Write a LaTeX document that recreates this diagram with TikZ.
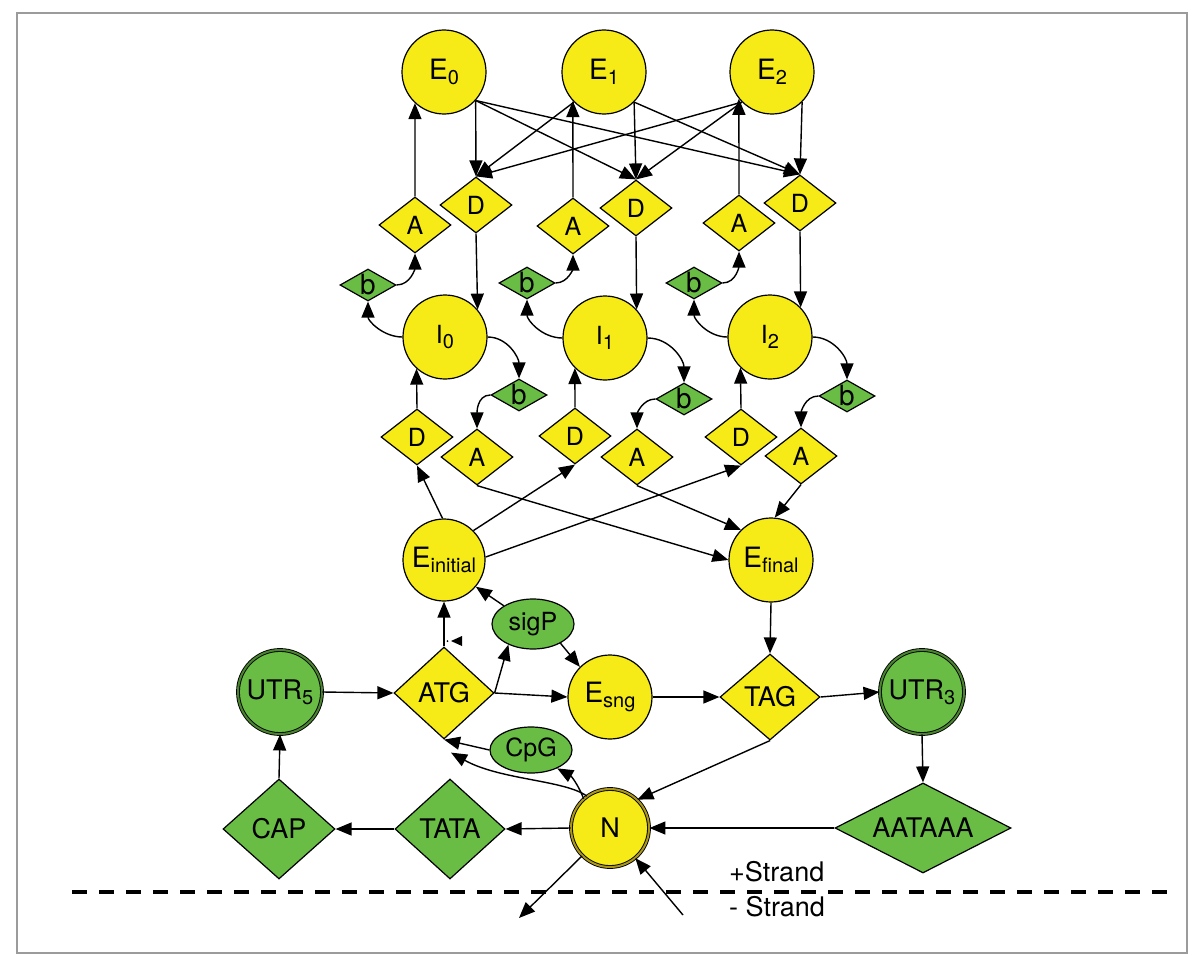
\documentclass[tikz,border=0pt]{standalone}
\usepackage{fontspec}
\setmainfont{TeX Gyre Heros}
\usetikzlibrary{shapes.geometric,arrows.meta}
\definecolor{yel}{RGB}{246,235,22}
\definecolor{grn}{RGB}{105,189,69}
\definecolor{frm}{RGB}{155,155,155}
\definecolor{olv}{RGB}{170,150,30}
\newcommand\lowsub[1]{\raisebox{-5pt}{\fontsize{20}{20}\selectfont #1}}
\newcommand\fa{\fontsize{25}{25}\selectfont}
\newcommand\fb{\fontsize{27}{27}\selectfont}
\newcommand\fe{\fontsize{28}{28}\selectfont}
\begin{document}
\begin{tikzpicture}[x=1pt,y=1pt,
  base/.style={draw=black, line width=1.2pt, inner sep=0pt, text=black},
  ecirc/.style={base, circle, fill=yel, minimum size=84pt, font=\fe},
  icirc/.style={base, circle, fill=yel, minimum size=84pt, font=\fa},
  ydia/.style={base, diamond, fill=yel, aspect=1.3, minimum width=72pt, minimum height=56pt, font=\fa},
  bdia/.style={base, diamond, fill=grn, aspect=1.75, minimum width=56pt, minimum height=32pt, font=\fe},
  gell/.style={base, ellipse, fill=grn, minimum width=82pt, font=\fa},
  utr/.style={base, circle, fill=grn, line width=0.9pt, double=grn!70!black, double distance=2pt, minimum size=84pt, font=\fb},
  arr/.style={-{Triangle[length=16pt,width=13pt]}, line width=1.4pt},
]
\useasboundingbox (0,0) rectangle (1200,-966);
\draw[frm, line width=1.5pt] (17,-13) rectangle (1187,-953);

% exon states
\node[ecirc] (E0) at (444,-72) {E\lowsub{0}};
\node[ecirc] (E1) at (604,-72) {E\lowsub{1}};
\node[ecirc] (E2) at (772,-72) {E\lowsub{2}};
% upper acceptor/donor
\node[ydia] (A0) at (415,-225) {A};
\node[ydia] (D0) at (476,-205) {D};
\node[ydia] (A1) at (573,-226) {A};
\node[ydia] (D1) at (636,-208) {D};
\node[ydia] (A2) at (739,-223) {A};
\node[ydia] (D2) at (800,-203) {D};
% upper b
\node[bdia] (bu0) at (368,-285) {b};
\node[bdia] (bu1) at (527,-283) {b};
\node[bdia] (bu2) at (694,-283) {b};
% introns
\node[icirc] (I0) at (445,-337) {I\lowsub{0}};
\node[icirc] (I1) at (605,-338) {I\lowsub{1}};
\node[icirc] (I2) at (770,-337) {I\lowsub{2}};
% lower b
\node[bdia] (bl0) at (519,-395) {b};
\node[bdia] (bl1) at (684,-399) {b};
\node[bdia] (bl2) at (847,-396) {b};
% lower donor/acceptor
\node[ydia] (Dl0) at (417,-437) {D};
\node[ydia] (Dl1) at (575,-436) {D};
\node[ydia] (Dl2) at (741,-437) {D};
\node[ydia] (Al0) at (477,-457) {A};
\node[ydia] (Al1) at (637,-457) {A};
\node[ydia] (Al2) at (801,-456) {A};
% initial / final
\node[ecirc, minimum size=82pt] (Ei) at (444,-560) {E\lowsub{initial}};
\node[ecirc] (Ef) at (771,-560) {E\lowsub{final}};
% lower part
\node[gell, minimum height=50pt] (sigP) at (533,-624) {sigP};
\node[base, diamond, fill=yel, minimum width=100pt, minimum height=92pt, font=\fb] (ATG) at (444,-693) {ATG};
\node[ecirc] (Esng) at (610,-697) {E\lowsub{sng}};
\node[base, diamond, fill=yel, minimum width=100pt, minimum height=86pt, font=\fb] (TAG) at (770,-697) {TAG};
\node[utr] (UTR5) at (280,-692) {UTR\lowsub{5}};
\node[utr] (UTR3) at (922,-692) {UTR\lowsub{3}};
\node[gell, minimum height=46pt] (CpG) at (531,-750) {CpG};
\node[base, diamond, fill=grn, minimum width=112pt, minimum height=100pt, font=\fb] (CAP) at (279,-829) {CAP};
\node[base, diamond, fill=grn, minimum width=110pt, minimum height=100pt, font=\fb] (TATA) at (450,-829) {TATA};
\node[base, circle, fill=yel, line width=0.9pt, double=olv, double distance=2pt, minimum size=78pt, font=\fb] (N) at (610,-828) {N};
\node[base, diamond, fill=grn, aspect=2, minimum width=176pt, minimum height=90pt, font=\fb] (AATAAA) at (923,-828) {AATAAA};

% strand separator
\coordinate (dl) at (72,-892);
\coordinate (dr) at (1168,-892);
\draw[line width=4.5pt, dash pattern=on 15pt off 12pt] (dl) -- (dr);
\node[anchor=west, inner sep=0pt, font=\fb] (plus) at (729,-872) {+Strand};
\node[anchor=west, inner sep=0pt, font=\fb] (minus) at (729,-907) {- Strand};

% top connectors
\draw[arr] (A0.north) -- (E0.-133);
\draw[arr] (E0.-42) -- (D0.north);
\draw[arr] (E0.-42) -- (D1.north);
\draw[arr] (E0.-42) -- (D2.north);
\draw[arr] (A1.north) -- (E1.-137);
\draw[arr] (E1.-135) -- (D0.north);
\draw[arr] (E1.-45) -- (D1.north);
\draw[arr] (E1.-45) -- (D2.north);
\draw[arr] (A2.north) -- (E2.-141);
\draw[arr] (E2.-135) -- (D0.north);
\draw[arr] (E2.-135) -- (D1.north);
\draw[arr] (E2.-45) -- (D2.north);

% donor -> intron
\draw[arr] (D0.south) -- (I0.40);
\draw[arr] (D1.south) -- (I1.42);
\draw[arr] (D2.south) -- (I2.44);
\draw[arr] (Dl0.north) -- (I0.-132);
\draw[arr] (Dl1.north) -- (I1.-135);
\draw[arr] (Dl2.north) -- (I2.-134);

% intron -> b -> acceptor
\draw[arr] (I0.west) to[out=180,in=-90] (bu0.south);
\draw[arr] (bu0.east) to[out=0,in=-90] (A0.south);
\draw[arr] (I0.east) to[out=0,in=90] (bl0.north);
\draw[arr] (bl0.west) to[out=180,in=90] (Al0.north);
\draw[arr] (I1.west) to[out=180,in=-90] (bu1.south);
\draw[arr] (bu1.east) to[out=0,in=-90] (A1.south);
\draw[arr] (I1.east) to[out=0,in=90] (bl1.north);
\draw[arr] (bl1.west) to[out=180,in=90] (Al1.north);
\draw[arr] (I2.west) to[out=180,in=-90] (bu2.south);
\draw[arr] (bu2.east) to[out=0,in=-90] (A2.south);
\draw[arr] (I2.east) to[out=0,in=90] (bl2.north);
\draw[arr] (bl2.west) to[out=180,in=90] (Al2.north);

% initial / final
\draw[arr] (Ei.92) -- (Dl0.south);
\draw[arr] (Ei.45) -- (Dl1.south);
\draw[arr] (Ei.4) -- (Dl2.south);
\draw[arr] (Al0.south) -- (Ef.180);
\draw[arr] (Al1.south) -- (Ef.135);
\draw[arr] (Al2.south) -- (Ef.85);

% gene structure
\draw[arr] (Ef.south) -- (TAG.north);
\draw[arr] (ATG.north) -- (Ei.south);
\draw[arr] (sigP.148) -- (Ei.-40);
\draw[arr] (ATG.east) -- (sigP.-140);
\draw[arr] (sigP.-35) -- (Esng.135);
\draw[arr] (ATG.east) -- (Esng.west);
\draw[arr] (Esng.east) -- (TAG.west);
\draw[arr] (TAG.east) -- (UTR3.west);
\draw[arr] (UTR5.east) -- (ATG.west);
\draw[arr] (UTR3.south) -- (AATAAA.north);
\draw[arr] (TAG.south) -- (N.46);
\draw[arr] (AATAAA.west) -- (N.east);
\draw[arr] (N.west) -- (TATA.east);
\draw[arr] (TATA.west) -- (CAP.east);
\draw[arr] (CAP.north) -- (UTR5.south);
\draw[arr] (N.132) to[bend right=20] (CpG.-35);
\draw[arr] (CpG.west) -- (ATG.south);
\draw[arr] (N.126) .. controls (565,-780) and (500,-780) .. ([shift={(7pt,-13pt)}]ATG.south);

% stray arrowhead near ATG
\fill (451,-641) -- (462,-636) -- (462,-646) -- cycle;
\fill (447.5,-641) circle (1pt);

% strand change
\coordinate (mstrand) at (519,-918);
\coordinate (pstrand) at (683,-915);
\draw[arr] (N.-135) -- (mstrand);
\draw[arr] (pstrand) -- (N.-50);
\end{tikzpicture}
\end{document}
